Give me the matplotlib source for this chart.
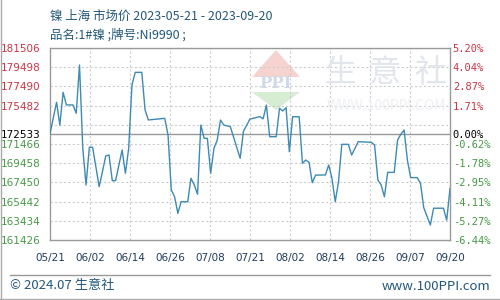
import pandas as pd
import matplotlib
matplotlib.use("Agg")
from matplotlib import pyplot as plt
from matplotlib.patches import Polygon
from matplotlib.lines import Line2D

plt.rcParams['font.family'] = ['Noto Sans CJK SC', 'DejaVu Sans']

# price turning points (yuan/ton)
dates = ["05-21", "05-23", "05-24", "05-25", "05-26", "05-28", "05-29", "05-30", "05-31",
         "06-01", "06-02", "06-03", "06-05", "06-06", "06-07", "06-08", "06-09", "06-10",
         "06-12", "06-13", "06-14", "06-15", "06-16", "06-18", "06-19", "06-20", "06-25",
         "06-26", "06-27", "06-28", "06-29", "06-30", "07-02", "07-03", "07-04", "07-05",
         "07-06", "07-07", "07-08", "07-09", "07-10", "07-11", "07-12", "07-13", "07-15",
         "07-18", "07-19", "07-21", "07-22", "07-24", "07-25", "07-26", "07-27", "07-29",
         "07-30", "07-31", "08-01", "08-02", "08-03", "08-05", "08-06", "08-07", "08-08",
         "08-09", "08-10", "08-13", "08-14", "08-15", "08-16", "08-17", "08-18", "08-20",
         "08-21", "08-22", "08-23", "08-27", "08-28", "08-29", "08-30", "08-31", "09-01",
         "09-03", "09-04", "09-05", "09-06", "09-07", "09-08", "09-10", "09-11", "09-12",
         "09-14", "09-15", "09-18", "09-19", "09-20"]
prices = [172533, 175830, 173450, 176870, 175550, 175550, 174680, 179730, 171000,
          167180, 171120, 171120, 167000, 168570, 170210, 170320, 167630, 167630,
          170840, 168400, 171000, 177640, 178960, 178960, 175020, 173980, 174150,
          172400, 166650, 165950, 164210, 165430, 165430, 167880, 167180, 166210,
          173450, 172060, 172060, 168400, 171010, 171880, 173970, 173450, 173280,
          169970, 172800, 174080, 174150, 174330, 174100, 175540, 172230, 172230,
          175200, 174920, 175270, 170660, 174320, 174320, 169440, 169790, 169550,
          167420, 168210, 168230, 169270, 167880, 165430, 167520, 171430, 171430,
          170310, 171010, 171710, 171640, 171360, 167700, 167180, 165950, 168500,
          168500, 171880, 172480, 172930, 169790, 167950, 167950, 167360, 164800,
          162990, 164750, 164750, 163500, 166800]

basePrice = 172533
gridValues = [161426, 163434, 165442, 167450, 169458, 171466, 173474, 175482, 177490, 179498, 181506]
leftTicks = [161426, 163434, 165442, 167450, 169458, 171466, 172533, 175482, 177490, 179498, 181506]
rightLabels = ["-6.44%", "-5.27%", "-4.11%", "-2.95%", "-1.78%", "-0.62%", "0.00%", "1.71%", "2.87%", "4.04%", "5.20%"]
xLabels = ["05/21", "06/02", "06/14", "06/26", "07/08", "07/21", "08/02", "08/14", "08/26", "09/07", "09/20"]

titleText = "镍 上海 市场价 2023-05-21 - 2023-09-20"
subText = "品名:1#镍 ;牌号:Ni9990 ;"

RED = "#cc3344"
GREEN = "#449944"
TEXTBLUE = "#23587a"

start = pd.Timestamp("2023-05-21")
days = [(pd.Timestamp("2023-" + d) - start).days for d in dates]
nDays = (pd.Timestamp("2023-09-20") - start).days

fig = plt.figure(figsize=(5, 3), dpi=100)
ax = fig.add_axes([0.1, 0.2, 0.8, 0.64])

# watermark (logo + site name)
def px(x, y):
    return (x / 500, 1 - y / 300)

fig.add_artist(Polygon([px(276, 50), px(300, 77), px(252, 77)], closed=True,
                       transform=fig.transFigure, facecolor="#f6d3cf", edgecolor="none", zorder=0))
fig.add_artist(Polygon([px(252, 92), px(300, 92), px(276, 110)], closed=True,
                       transform=fig.transFigure, facecolor="#d6ecd3", edgecolor="none", zorder=0))
fig.text(276 / 500, 1 - 84 / 300, "PPI", ha="center", va="center", fontsize=12,
         fontweight="bold", family="DejaVu Serif", color="#cfd9e8", zorder=0)
for cx, ch in zip([340, 385, 430], "生意社"):
    fig.text(cx / 500, 1 - 73 / 300, ch, ha="center", va="center", fontsize=23,
             color="#e1e5ec", zorder=0)
fig.text(386 / 500, 1 - 106 / 300, "WWW.100PPI.COM", ha="center", va="center",
         fontsize=10, color="#eceff3", zorder=0)

ax.set_facecolor("none")
for g in gridValues:
    ax.axhline(g, color="#cccccc", lw=0.8, ls=(0, (2, 2)), zorder=1)
xTicks = [nDays * i / 10 for i in range(11)]
for xt in xTicks[1:-1]:
    ax.axvline(xt, color="#cccccc", lw=0.8, ls=(0, (2, 2)), zorder=1)
ax.axhline(basePrice, color="#999999", lw=1, zorder=2)

ax.plot(days, prices, color="#3d8ab5", lw=1, zorder=3)

ax.set_xlim(0, nDays)
ax.set_ylim(gridValues[0], gridValues[-1])
for s in ax.spines.values():
    s.set_color("#999999")
    s.set_linewidth(1)

ax.set_xticks(xTicks)
ax.set_xticklabels(xLabels, fontsize=7.5, color="#1f3a5a", family="DejaVu Sans")
ax.tick_params(axis="x", length=0, pad=9)

ax.set_yticks(leftTicks)
ax.set_yticklabels([str(v) for v in leftTicks], fontsize=7.5, family="DejaVu Sans")
ax.tick_params(axis="y", length=0, pad=7)

ax2 = ax.twinx()
ax2.set_ylim(ax.get_ylim())
ax2.set_yticks(leftTicks)
ax2.set_yticklabels(rightLabels, fontsize=7.5, family="DejaVu Sans Mono")
ax2.tick_params(axis="y", length=0, pad=2)
for s in ax2.spines.values():
    s.set_visible(False)

for lab1, lab2, v in zip(ax.get_yticklabels(), ax2.get_yticklabels(), leftTicks):
    c = RED if v > basePrice else (GREEN if v < basePrice else "black")
    lab1.set_color(c)
    lab2.set_color(c)

fig.text(50 / 500, 1 - 16 / 300, titleText, ha="left", va="center", fontsize=9, color=TEXTBLUE)
fig.text(50 / 500, 1 - 35 / 300, subText, ha="left", va="center", fontsize=9, color=TEXTBLUE)

# footer
fig.add_artist(Line2D([10 / 500, 490 / 500], [1 - 275 / 300, 1 - 275 / 300],
                      transform=fig.transFigure, color="#999999", lw=1))
fig.text(10 / 500, 1 - 286 / 300, "© 2024.07 生意社", ha="left", va="center", fontsize=9.5, color=TEXTBLUE)
fig.text(490 / 500, 1 - 286 / 300, "www.100PPI.com", ha="right", va="center", fontsize=9.5, color=TEXTBLUE)

# outer frame (left and bottom edges)
fig.add_artist(Line2D([0.001, 0.001], [0, 1], transform=fig.transFigure, color="#aaaaaa", lw=1))
fig.add_artist(Line2D([0, 1], [0.002, 0.002], transform=fig.transFigure, color="#aaaaaa", lw=1))

fig.savefig("out.png", dpi=100)
